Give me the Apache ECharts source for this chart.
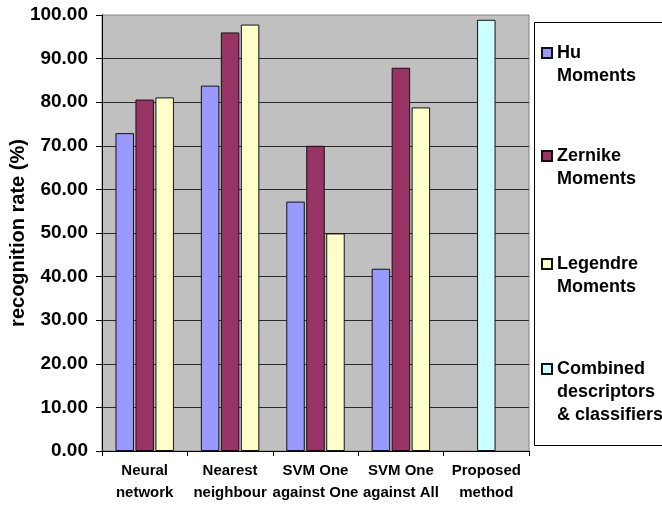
<!DOCTYPE html>
<html>
<head>
<meta charset="utf-8">
<script src="https://cdn.jsdelivr.net/npm/echarts@6/dist/echarts.min.js"></script>
<style>
  html, body { margin: 0; padding: 0; background: #fff; }
  #chart { width: 662px; height: 508px; }
</style>
</head>
<body>
<div id="chart"></div>
<script>
// Recognition rate per classifier and shape descriptor
const categories = ['Neural\nnetwork', 'Nearest\nneighbour', 'SVM One\nagainst One', 'SVM One\nagainst All', 'Proposed\nmethod'];
const huMoments       = [72.9, 83.8, 57.2, 41.8, null];
const zernikeMoments  = [80.6, 96.0, 70.0, 87.9, null];
const legendreMoments = [81.1, 97.8, 49.9, 78.8, null];
const combinedMethod  = [null, null, null, null, 98.9];
const seriesNames = ['Hu\nMoments', 'Zernike\nMoments', 'Legendre\nMoments', 'Combined\ndescriptors\n& classifiers'];
const yTicks = { min: 0, max: 100, interval: 10 };

const FONT = '"Liberation Sans", Arial, sans-serif';
const chart = echarts.init(document.getElementById('chart'), null, { renderer: 'canvas' });

const barBorder = { borderColor: '#111', borderWidth: 1 };
const colors = ['#9999ff', '#993366', '#ffffcc', '#ccffff'];

function makeBar(name, data, color, axisIdx) {
  return {
    type: 'bar',
    name: name,
    data: data,
    xAxisIndex: axisIdx,
    barWidth: 18.5,
    barGap: '8%',
    itemStyle: Object.assign({ color: color }, barBorder),
    emphasis: { disabled: true },
    animation: false
  };
}

// One legend per entry; leading blank lines keep the marker level with
// the first line of a multi-line label.
const legendTops = [18.5, 121.5, 229.5, 311.5];
const legends = seriesNames.map((n, i) => {
  const lines = n.split('\n').length;
  return {
    orient: 'vertical',
    left: 541,
    top: legendTops[i],
    padding: 0,
    itemGap: 0,
    itemWidth: 10,
    itemHeight: 10,
    icon: 'rect',
    selectedMode: false,
    data: [n],
    formatter: name => '\n'.repeat(lines - 1) + name,
    textStyle: { fontFamily: FONT, fontSize: 18, fontWeight: 'bold', color: '#000', lineHeight: 23 }
  };
});

const option = {
  animation: false,
  backgroundColor: '#fff',
  grid: {
    left: 102, top: 15, right: 133, bottom: 57,
    outerBoundsMode: 'none',
    show: true, backgroundColor: '#c0c0c0', borderColor: '#808080', borderWidth: 1
  },
  // legend frame, running off the right edge of the canvas
  graphic: [{
    type: 'polyline',
    z: 1,
    shape: { points: [[700, 22.5], [534.5, 22.5], [534.5, 445.5], [700, 445.5]] },
    style: { fill: 'none', stroke: '#000', lineWidth: 1 }
  }],
  legend: legends,
  xAxis: [{
    type: 'category',
    data: categories,
    axisLine: { lineStyle: { color: '#000', width: 1 } },
    axisTick: { show: true, length: 5, lineStyle: { color: '#000' } },
    axisLabel: { fontFamily: FONT, fontSize: 15, fontWeight: 'bold', color: '#000', lineHeight: 22, margin: 9, interval: 0 }
  }, {
    type: 'category',
    data: categories,
    show: false
  }],
  yAxis: {
    type: 'value',
    min: yTicks.min, max: yTicks.max, interval: yTicks.interval,
    name: 'recognition rate (%)',
    nameLocation: 'middle',
    nameGap: 74,
    nameMoveOverlap: false,
    nameTextStyle: { fontFamily: FONT, fontSize: 20, fontWeight: 'bold', color: '#000' },
    axisLine: { show: true, lineStyle: { color: '#000', width: 1 } },
    axisTick: { show: true, length: 6, lineStyle: { color: '#000' } },
    axisLabel: {
      fontFamily: FONT, fontSize: 19, fontWeight: 'bold', color: '#000', margin: 14,
      formatter: v => v.toFixed(2)
    },
    splitLine: { show: true, showMaxLine: false, lineStyle: { color: '#2a2a2a', width: 1 } }
  },
  series: [
    makeBar(seriesNames[0], huMoments, colors[0], 0),
    makeBar(seriesNames[1], zernikeMoments, colors[1], 0),
    makeBar(seriesNames[2], legendreMoments, colors[2], 0),
    makeBar(seriesNames[3], combinedMethod, colors[3], 1)
  ]
};

chart.setOption(option);
</script>
</body>
</html>
